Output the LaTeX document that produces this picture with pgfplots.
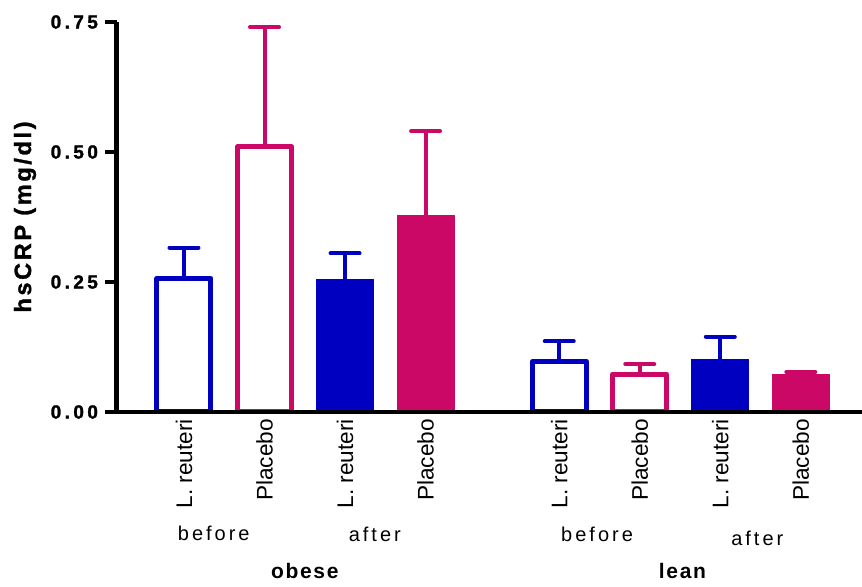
\documentclass[border=0pt]{standalone}
\usepackage{fontspec}
\setmainfont{Liberation Sans}
\newfontfamily\spaced[LetterSpace=15]{Liberation Sans}
\newfontfamily\spacedtick[LetterSpace=18,BoldFeatures={FakeBold=1.5}]{Liberation Sans}
\newfontfamily\spacedlabel[LetterSpace=11,BoldFeatures={FakeBold=1.2}]{Liberation Sans}
\newfontfamily\spacedgroup[LetterSpace=8]{Liberation Sans}
\usepackage{pgfplots}
\usepackage{pgfplotstable}
\pgfplotsset{compat=1.18}

\definecolor{lrblue}{RGB}{0,0,192}
\definecolor{plmag}{RGB}{204,8,102}

% columns: position, mean hsCRP (mg/dl), upper error (SEM)
\pgfplotstableread{
x    y     e
0    0.257 0.059
4.66 0.097 0.039
}\lrbefore
\pgfplotstableread{
x    y     e
1    0.510 0.230
5.66 0.073 0.019
}\plbefore
\pgfplotstableread{
x    y     e
2    0.255 0.050
6.66 0.100 0.045
}\lrafter
\pgfplotstableread{
x    y     e
3    0.378 0.162
7.66 0.072 0.005
}\plafter

\pgfplotsset{
  sembar/.style={
    error bars/.cd, y dir=plus, y explicit,
    error bar style={#1, line width=2pt},
    error mark=|,
    error mark options={#1, line width=2pt, mark size=7.25pt, line cap=round}},
}

\begin{document}
\begin{tikzpicture}
\begin{axis}[
  scale only axis,
  width=372.5pt, height=195pt,
  xmin=-0.832, xmax=8.42,
  ymin=0, ymax=0.75,
  axis on top,
  clip=false,
  axis x line=bottom, axis y line=left,
  x axis line style={-, line width=1.8pt},
  y axis line style={-, line width=2.5pt},
  ytick={0,0.25,0.5,0.75},
  yticklabels={0.00,0.25,0.50,0.75},
  y tick label style={font=\spacedtick\bfseries\fontsize{9.5}{10}\selectfont},
  ytick style={line width=2pt, black},
  major tick length=6pt,
  tick align=outside,
  xtick={0,1,2,3,4.66,5.66,6.66,7.66},
  xticklabels={L. reuteri,Placebo,L. reuteri,Placebo,L. reuteri,Placebo,L. reuteri,Placebo},
  x tick label style={rotate=90, anchor=east, font=\fontsize{11.3}{12}\selectfont},
  xticklabel shift=-6pt,
  xtick style={draw=none},
  ylabel={hsCRP (mg/dl)},
  every axis y label/.style={at={(axis description cs:-0.1235,0.5)}, rotate=90, anchor=center,
    font=\spacedlabel\bfseries\fontsize{11.8}{12}\selectfont},
]
% before: open bars
\addplot[ybar, bar shift=0pt, bar width=27pt, draw=lrblue, fill=white, line width=2.5pt,
  line join=round, sembar=lrblue]
  table[x=x, y=y, y error=e]{\lrbefore};
\addplot[ybar, bar shift=0pt, bar width=27pt, draw=plmag, fill=white, line width=2.5pt,
  line join=round, sembar=plmag]
  table[x=x, y=y, y error=e]{\plbefore};
% after: filled bars
\addplot[ybar, bar shift=0pt, bar width=28.5pt, draw=lrblue, fill=lrblue, line width=0.5pt,
  line join=round, sembar=lrblue]
  table[x=x, y=y, y error=e]{\lrafter};
\addplot[ybar, bar shift=0pt, bar width=28.5pt, draw=plmag, fill=plmag, line width=0.5pt,
  line join=round, sembar=plmag]
  table[x=x, y=y, y error=e]{\plafter};

% time point and group captions
\node[anchor=base, font=\spaced\fontsize{10}{12}\selectfont] at ([yshift=-64.5pt]axis cs:0.37,0) {before};
\node[anchor=base, font=\spaced\fontsize{10}{12}\selectfont] at ([yshift=-65pt]axis cs:2.37,0) {after};
\node[anchor=base, font=\spaced\fontsize{10}{12}\selectfont] at ([yshift=-65pt]axis cs:5.13,0) {before};
\node[anchor=base, font=\spaced\fontsize{10}{12}\selectfont] at ([yshift=-67pt]axis cs:7.12,0) {after};
\node[anchor=base, font=\spacedgroup\bfseries\fontsize{10.5}{12}\selectfont] at ([yshift=-83.5pt]axis cs:1.50,0) {obese};
\node[anchor=base, font=\spacedgroup\bfseries\fontsize{10.5}{12}\selectfont] at ([yshift=-83.5pt]axis cs:6.19,0) {lean};
\end{axis}
\pgfresetboundingbox
\path (-58.5pt,-87.5pt) rectangle (372.5pt,206pt);
\end{tikzpicture}
\end{document}
